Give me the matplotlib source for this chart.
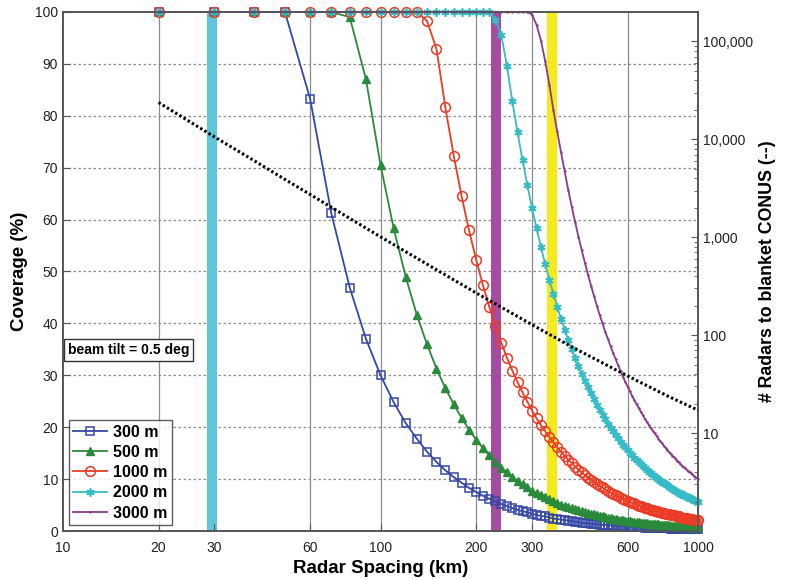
import numpy as np
import matplotlib
matplotlib.use("Agg")
import matplotlib.pyplot as plt
from matplotlib.ticker import FuncFormatter, NullFormatter, LogLocator

plt.rcParams['font.family'] = ['Liberation Sans', 'DejaVu Sans']

# radar spacing (km), every 10 km
spacing = np.arange(20, 1001, 10)

cov_300 = [100, 100, 100, 100, 83.3, 61.2, 46.9, 37.0, 30.0,
           24.8, 20.8, 17.8, 15.3, 13.3, 11.7, 10.4, 9.3, 8.3, 7.5,
           6.8, 6.2, 5.7, 5.2, 4.8, 4.4, 4.1, 3.8, 3.6, 3.3,
           3.1, 2.9, 2.8, 2.6, 2.4, 2.3, 2.2, 2.1, 2.0, 1.9,
           1.8, 1.7, 1.6, 1.5, 1.5, 1.4, 1.4, 1.3, 1.2, 1.2,
           1.2, 1.1, 1.1, 1.0, 1.0, 1.0, 0.9, 0.9, 0.9, 0.8,
           0.8, 0.8, 0.8, 0.7, 0.7, 0.7, 0.7, 0.6, 0.6, 0.6,
           0.6, 0.6, 0.6, 0.5, 0.5, 0.5, 0.5, 0.5, 0.5, 0.5,
           0.5, 0.4, 0.4, 0.4, 0.4, 0.4, 0.4, 0.4, 0.4, 0.4,
           0.4, 0.4, 0.3, 0.3, 0.3, 0.3, 0.3, 0.3, 0.3, 0.3]

cov_500 = [100, 100, 100, 100, 100, 100, 99, 87.0, 70.5,
           58.3, 49.0, 41.7, 36.0, 31.3, 27.5, 24.4, 21.8, 19.5, 17.6,
           16.0, 14.6, 13.3, 12.2, 11.3, 10.4, 9.7, 9.0, 8.4, 7.8,
           7.3, 6.9, 6.5, 6.1, 5.8, 5.4, 5.1, 4.9, 4.6, 4.4,
           4.2, 4.0, 3.8, 3.6, 3.5, 3.3, 3.2, 3.1, 2.9, 2.8,
           2.7, 2.6, 2.5, 2.4, 2.3, 2.2, 2.2, 2.1, 2.0, 2.0,
           1.9, 1.8, 1.8, 1.7, 1.7, 1.6, 1.6, 1.5, 1.5, 1.4,
           1.4, 1.4, 1.3, 1.3, 1.3, 1.2, 1.2, 1.2, 1.1, 1.1,
           1.1, 1.0, 1.0, 1.0, 1.0, 1.0, 0.9, 0.9, 0.9, 0.9,
           0.9, 0.8, 0.8, 0.8, 0.8, 0.8, 0.7, 0.7, 0.7, 0.7]

cov_1000 = [100, 100, 100, 100, 100, 100, 100, 100, 100,
            100, 100, 100, 98.3, 92.9, 81.6, 72.3, 64.5, 57.9, 52.3,
            47.4, 43.2, 39.5, 36.3, 33.4, 30.9, 28.7, 26.7, 24.9, 23.2,
            21.7, 20.4, 19.2, 18.1, 17.1, 16.1, 15.3, 14.5, 13.7, 13.1,
            12.4, 11.8, 11.3, 10.8, 10.3, 9.9, 9.5, 9.1, 8.7, 8.4,
            8.0, 7.7, 7.4, 7.2, 6.9, 6.7, 6.4, 6.2, 6.0, 5.8,
            5.6, 5.4, 5.3, 5.1, 4.9, 4.8, 4.7, 4.5, 4.4, 4.3,
            4.1, 4.0, 3.9, 3.8, 3.7, 3.6, 3.5, 3.4, 3.3, 3.3,
            3.2, 3.1, 3.0, 3.0, 2.9, 2.8, 2.8, 2.7, 2.6, 2.6,
            2.5, 2.5, 2.4, 2.4, 2.3, 2.3, 2.2, 2.2, 2.1, 2.1]

cov_2000 = [100, 100, 100, 100, 100, 100, 100, 100, 100,
            100, 100, 100, 100, 100, 100, 100, 100, 100, 100,
            100, 100, 98.5, 95.6, 89.6, 82.8, 76.8, 71.4, 66.6, 62.2,
            58.3, 54.7, 51.4, 48.4, 45.7, 43.2, 40.9, 38.8, 36.8, 35.0,
            33.3, 31.7, 30.3, 28.9, 27.7, 26.5, 25.4, 24.3, 23.3, 22.4,
            21.5, 20.7, 19.9, 19.2, 18.5, 17.9, 17.2, 16.6, 16.1, 15.6,
            15.0, 14.6, 14.1, 13.7, 13.3, 12.9, 12.5, 12.1, 11.8, 11.4,
            11.1, 10.8, 10.5, 10.2, 10.0, 9.7, 9.4, 9.2, 9.0, 8.8,
            8.5, 8.3, 8.1, 7.9, 7.8, 7.6, 7.4, 7.2, 7.1, 6.9,
            6.8, 6.6, 6.5, 6.3, 6.2, 6.1, 6.0, 5.8, 5.7, 5.6]

cov_3000 = [100, 100, 100, 100, 100, 100, 100, 100, 100,
            100, 100, 100, 100, 100, 100, 100, 100, 100, 100,
            100, 100, 100, 100, 100, 100, 100, 100, 100, 99.5,
            97.5, 94.5, 90.5, 86.0, 81.2, 77.0, 73.0, 69.3, 65.7, 62.5,
            59.5, 56.7, 54.1, 51.7, 49.4, 47.3, 45.3, 43.4, 41.6, 40.0,
            38.4, 37.0, 35.6, 34.3, 33.1, 31.9, 30.8, 29.7, 28.7, 27.8,
            26.9, 26.0, 25.2, 24.4, 23.7, 23.0, 22.3, 21.6, 21.0, 20.4,
            19.8, 19.3, 18.8, 18.3, 17.8, 17.3, 16.9, 16.4, 16.0, 15.6,
            15.2, 14.9, 14.5, 14.2, 13.8, 13.5, 13.2, 12.9, 12.6, 12.3,
            12.1, 11.8, 11.6, 11.3, 11.1, 10.9, 10.6, 10.4, 10.2, 10.0]

# radars needed to blanket CONUS (right axis)
count_km = [20, 30, 40, 50, 60, 80, 100, 150, 200, 300, 400, 600, 800, 1000]
count_n = [23800, 10600, 6060, 3900, 2740, 1560, 1010, 466, 270, 128, 76, 38.3, 24, 17.1]

# highlighted spacings (vertical bars)
bar_km = [29.5, 231, 346]
bar_colors = ['#5ec5da', '#a64b9f', '#f6ea1c']

fig = plt.figure(figsize=(7.89, 5.79), dpi=100)
ax = fig.add_axes([0.0798, 0.0829, 0.805, 0.8964])

for xb, cb in zip(bar_km, bar_colors):
    ax.axvline(xb, color=cb, lw=7.2, zorder=1.5)

asterisk = (6, 2, 0)
l1, = ax.plot(spacing, cov_300, color='#3548a6', marker='s', mfc='none', ms=6, mew=1.1, lw=1.3, label='300 m', zorder=3, clip_on=False)
l2, = ax.plot(spacing, cov_500, color='#2a8a3b', marker='^', mfc='#2a8a3b', ms=6, mew=1.0, lw=1.3, label='500 m', zorder=3, clip_on=False)
l3, = ax.plot(spacing, cov_1000, color='#ec3b25', marker='o', mfc='none', ms=7, mew=1.1, lw=1.3, label='1000 m', zorder=3, clip_on=False)
l4, = ax.plot(spacing, cov_2000, color='#35bcc6', marker=asterisk, ms=6, mew=1.2, lw=1.3, label='2000 m', zorder=3, clip_on=False)
l5, = ax.plot(spacing, cov_3000, color='#8a3b8e', marker='.', ms=1.5, lw=1.3, label='3000 m', zorder=3, clip_on=False)

ax.set_xscale('log')
ax.set_xlim(10, 1000)
ax.set_ylim(0, 100)
ax.set_xticks([10, 20, 30, 60, 100, 200, 300, 600, 1000])
ax.set_xticklabels(['10', '20', '30', '60', '100', '200', '300', '600', '1000'])
ax.xaxis.set_minor_formatter(NullFormatter())
ax.tick_params(axis='x', which='minor', length=0)
ax.set_yticks(np.arange(0, 101, 10))
ax.tick_params(direction='in', labelsize=10, length=5, color='#555555', labelcolor='#222222')
ax.tick_params(axis='x', pad=7)

for xv in [20, 30, 60, 100, 200, 300, 600]:
    ax.axvline(xv, color='#8c8c8c', lw=0.9, zorder=1)
for yv in range(10, 100, 10):
    ax.axhline(yv, color='#8c8c8c', lw=0.9, ls=(0, (2, 2)), zorder=1)

for s in ax.spines.values():
    s.set_color('#555555')
    s.set_linewidth(1.2)

ax.set_xlabel('Radar Spacing (km)', fontsize=13.5, fontweight='bold', labelpad=4)
ax.set_ylabel('Coverage (%)', fontsize=13.5, fontweight='bold', labelpad=5)

ax.text(0.0075, 0.349, 'beam tilt = 0.5 deg', transform=ax.transAxes, fontsize=10,
        fontweight='bold', va='center', ha='left', zorder=6,
        bbox=dict(boxstyle='square,pad=0.3', fc='white', ec='#333333', lw=1.0))

leg = ax.legend(handles=[l1, l2, l3, l4, l5], loc='lower left',
                prop={'weight': 'bold', 'size': 11.5}, frameon=True, fancybox=False,
                edgecolor='#333333', handlelength=2.1, borderaxespad=0.35,
                labelspacing=0.33, handletextpad=0.4, borderpad=0.3)
leg.get_frame().set_linewidth(1.0)
leg.set_zorder(7)

ax2 = ax.twinx()
ax2.set_yscale('log')
ax2.set_ylim(1, 2e5)
ax2.plot(count_km, count_n, color='black', ls=(0, (0.8, 0.8)), lw=2.2, zorder=4)
ax2.yaxis.set_major_locator(LogLocator(base=10, numticks=10))
ax2.yaxis.set_minor_locator(LogLocator(base=10, subs=np.arange(2, 10), numticks=20))
ax2.yaxis.set_minor_formatter(NullFormatter())
ax2.yaxis.set_major_formatter(FuncFormatter(lambda v, p: '' if v < 10 else '{:,.0f}'.format(v)))
ax2.tick_params(direction='in', labelsize=10, length=5, color='#555555', labelcolor='#222222')
ax2.tick_params(which='minor', direction='in', length=3, color='#555555')
for s in ax2.spines.values():
    s.set_color('#555555')
    s.set_linewidth(1.2)
ax2.set_ylabel('# Radars to blanket CONUS (--)', fontsize=12.8, fontweight='bold', labelpad=4)
ax2.set_xlim(10, 1000)

fig.savefig('out.png', dpi=100)
